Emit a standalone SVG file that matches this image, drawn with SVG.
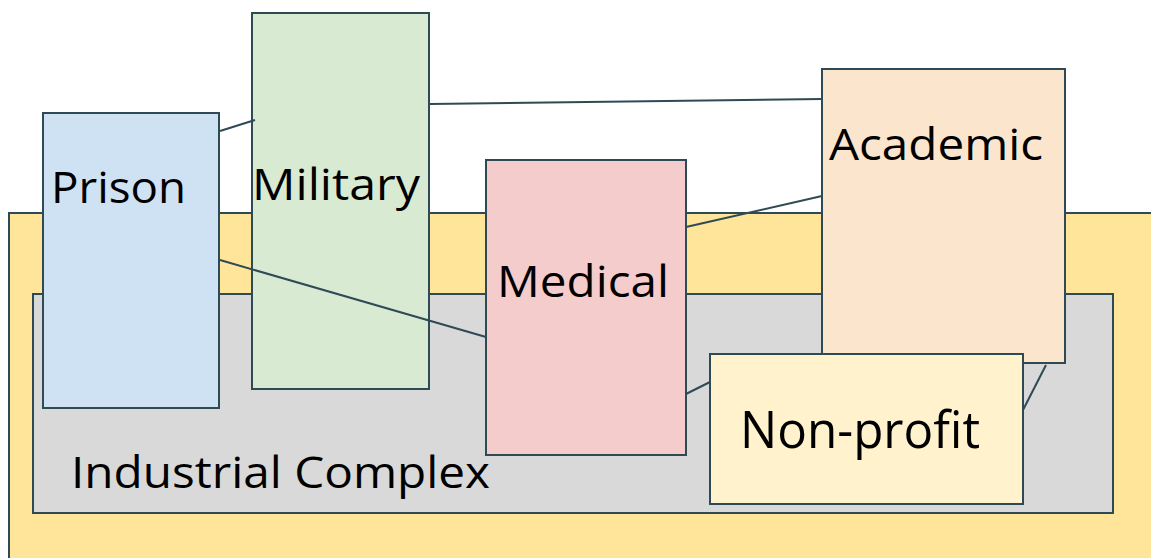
<svg xmlns="http://www.w3.org/2000/svg" width="1151" height="558" viewBox="0 0 1151 558">
<style>
.box{stroke:#2e4a55;stroke-width:2}
.lbl{font-family:"Open Sans","Noto Sans",sans-serif;fill:#000}
.con{stroke:#2e4a55;stroke-width:2;fill:none}
</style>
<rect x="0" y="0" width="1151" height="558" fill="#ffffff"/>
<g id="outer">
<rect class="box" x="9" y="213" width="1150" height="360" fill="#ffe599"/>
</g>
<g id="industrial-complex">
<rect class="box" x="33" y="294" width="1080" height="219" fill="#d9d9d9"/>
<text class="lbl" x="71" y="488" font-size="44" textLength="419" lengthAdjust="spacingAndGlyphs">Industrial Complex</text>
</g>
<g id="prison">
<rect class="box" x="43" y="113" width="176" height="295" fill="#cfe2f3"/>
<text class="lbl" x="51" y="203" font-size="44" textLength="135" lengthAdjust="spacingAndGlyphs">Prison</text>
</g>
<g id="military">
<rect class="box" x="252" y="13" width="177" height="376" fill="#d9ead3"/>
<text class="lbl" x="252" y="200" font-size="44" textLength="168" lengthAdjust="spacingAndGlyphs">Military</text>
</g>
<g id="medical">
<rect class="box" x="486" y="160" width="200" height="295" fill="#f4cccc"/>
<text class="lbl" x="497" y="297" font-size="44" textLength="172" lengthAdjust="spacingAndGlyphs">Medical</text>
</g>
<g id="academic">
<rect class="box" x="822" y="69" width="243" height="294" fill="#fce5cd"/>
<text class="lbl" x="829" y="160" font-size="44" textLength="214" lengthAdjust="spacingAndGlyphs">Academic</text>
</g>
<g id="non-profit">
<rect class="box" x="710" y="354" width="313" height="150" fill="#fff2cc"/>
<text class="lbl" x="740" y="448" font-size="52" textLength="240" lengthAdjust="spacingAndGlyphs">Non-profit</text>
</g>
<g id="connectors">
<line class="con" x1="220" y1="131" x2="255" y2="120"/>
<line class="con" x1="430" y1="104" x2="822" y2="99"/>
<line class="con" x1="686" y1="227" x2="822" y2="196"/>
<line class="con" x1="220" y1="260" x2="486" y2="337"/>
<line class="con" x1="686" y1="394" x2="710" y2="382"/>
<line class="con" x1="1023" y1="410" x2="1046" y2="365"/>
</g>
</svg>
